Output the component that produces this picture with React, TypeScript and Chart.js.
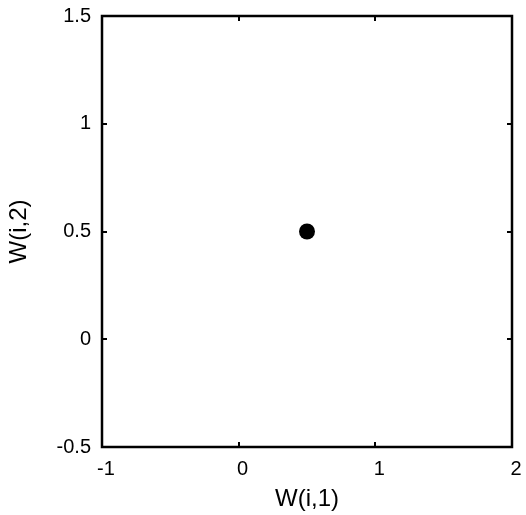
import React, { useEffect, useRef } from "react";
import { Chart, registerables } from "chart.js";

Chart.register(...registerables);

const pointsX = [0.5];
const pointsY = [0.5];
const xTicks = [-1, 0, 1, 2];
const yTicks = [-0.5, 0, 0.5, 1, 1.5];
const xTickLabels = ["-1", "0", "1", "2"];
const yTickLabels = ["-0.5", "0", "0.5", "1", "1.5"];
const xTitle = "W(i,1)";
const yTitle = "W(i,2)";

const FONT = "Liberation Sans, Arial, sans-serif";

const framePlugin = {
  id: "frame",
  afterDraw(chart: any) {
    const { ctx, chartArea } = chart;
    const { left, right, top, bottom } = chartArea;
    const xs = chart.scales.x;
    const ys = chart.scales.y;
    ctx.save();
    ctx.strokeStyle = "#000";
    ctx.lineWidth = 2;
    const tl = 5;
    ctx.beginPath();
    for (const v of xTicks) {
      const px = Math.round(xs.getPixelForValue(v));
      ctx.moveTo(px, bottom);
      ctx.lineTo(px, bottom - tl);
      ctx.moveTo(px, top);
      ctx.lineTo(px, top + tl);
    }
    for (const v of yTicks) {
      const py = Math.round(ys.getPixelForValue(v));
      ctx.moveTo(left, py);
      ctx.lineTo(left + tl, py);
      ctx.moveTo(right, py);
      ctx.lineTo(right - tl, py);
    }
    ctx.stroke();
    ctx.lineWidth = 2.5;
    ctx.strokeRect(left, top, right - left, bottom - top);
    ctx.restore();
  },
};

export default function App() {
  const ref = useRef<HTMLCanvasElement | null>(null);
  useEffect(() => {
    if (!ref.current) return;
    const chart = new Chart(ref.current, {
      type: "scatter",
      data: {
        datasets: [
          {
            data: pointsX.map((x, i) => ({ x, y: pointsY[i] })),
            pointRadius: 8,
            pointHoverRadius: 8,
            backgroundColor: "#000",
            borderColor: "#000",
            borderWidth: 0,
          },
        ],
      },
      options: {
        animation: false,
        responsive: true,
        maintainAspectRatio: false,
        layout: { autoPadding: false, padding: { top: 16, right: 14, left: 0, bottom: 0 } },
        plugins: { legend: { display: false }, tooltip: { enabled: false } },
        scales: {
          x: {
            type: "linear",
            min: -1,
            max: 2,
            afterFit: (s: any) => {
              s.height = 68;
              s.paddingLeft = 0;
              s.paddingRight = 0;
            },
            afterBuildTicks: (s: any) => {
              s.ticks = xTicks.map((v) => ({ value: v }));
            },
            grid: { display: false, drawTicks: false },
            border: { display: false },
            ticks: {
              padding: 10,
              labelOffset: 4,
              color: "#000",
              font: { family: FONT, size: 20 },
              callback: (v: any) => {
                const i = xTicks.indexOf(Number(v));
                return i >= 0 ? xTickLabels[i] : "";
              },
              maxRotation: 0,
            },
            title: {
              display: true,
              text: xTitle,
              color: "#000",
              font: { family: FONT, size: 24 },
              padding: { top: 0, bottom: 1 },
            },
          },
          y: {
            type: "linear",
            min: -0.5,
            max: 1.5,
            afterFit: (s: any) => {
              s.width = 102;
              s.paddingTop = 0;
              s.paddingBottom = 0;
            },
            afterBuildTicks: (s: any) => {
              s.ticks = yTicks.map((v) => ({ value: v }));
            },
            grid: { display: false, drawTicks: false },
            border: { display: false },
            ticks: {
              padding: 11,
              color: "#000",
              font: { family: FONT, size: 20 },
              callback: (v: any) => {
                const i = yTicks.indexOf(Number(v));
                return i >= 0 ? yTickLabels[i] : "";
              },
            },
            title: {
              display: true,
              text: yTitle,
              color: "#000",
              font: { family: FONT, size: 24 },
              padding: { top: 5, bottom: 0 },
            },
          },
        },
      },
      plugins: [framePlugin],
    } as any);
    return () => chart.destroy();
  }, []);
  return (
    <div style={{ position: "fixed", left: 0, top: 0, width: 526, height: 515, background: "#fff" }}>
      <canvas ref={ref} />
    </div>
  );
}
